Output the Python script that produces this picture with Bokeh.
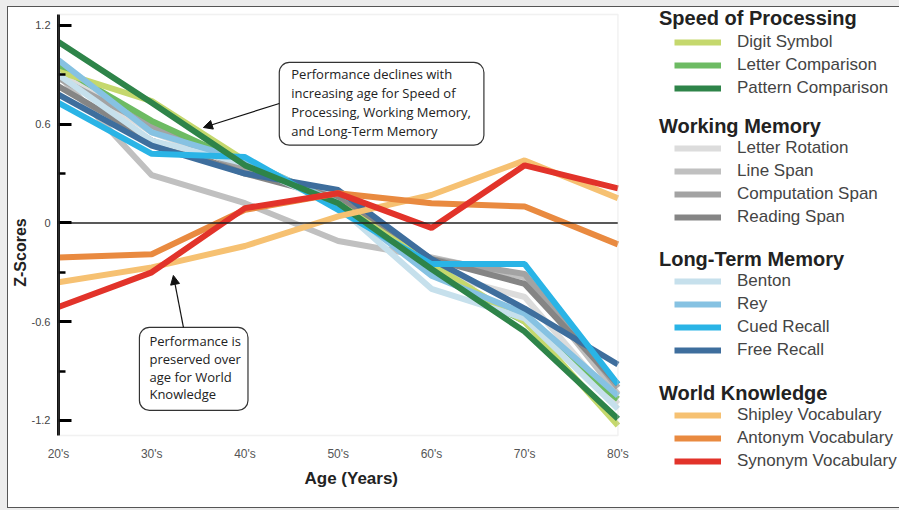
from bokeh.plotting import figure
from bokeh.models import (Range1d, FixedTicker, Label, Arrow, NormalHead,
                          Legend, LegendItem, BoxAnnotation)
from bokeh.embed import file_html
from bokeh.resources import INLINE

# ---------------- data ----------------
ages = ["20's", "30's", "40's", "50's", "60's", "70's", "80's"]

digit_symbol       = [0.92, 0.74, 0.38, 0.12, -0.25, -0.60, -1.23]
letter_comparison  = [0.95, 0.62, 0.36, 0.12, -0.30, -0.60, -1.07]
pattern_comparison = [1.10, 0.73, 0.35, 0.12, -0.28, -0.66, -1.19]
letter_rotation    = [0.92, 0.55, 0.35, 0.15, -0.30, -0.45, -1.10]
line_span          = [0.90, 0.29, 0.12, -0.11, -0.21, -0.33, -1.04]
computation_span   = [0.88, 0.59, 0.32, 0.15, -0.22, -0.31, -1.00]
reading_span       = [0.83, 0.50, 0.30, 0.15, -0.22, -0.37, -0.98]
benton             = [0.90, 0.50, 0.36, 0.10, -0.40, -0.58, -1.13]
rey                = [0.99, 0.55, 0.38, 0.12, -0.32, -0.55, -1.05]
cued_recall        = [0.73, 0.42, 0.40, 0.08, -0.25, -0.25, -0.98]
free_recall        = [0.78, 0.47, 0.30, 0.20, -0.22, -0.52, -0.86]
shipley_vocab      = [-0.36, -0.27, -0.14, 0.04, 0.17, 0.38, 0.15]
antonym_vocab      = [-0.21, -0.19, 0.08, 0.18, 0.12, 0.10, -0.13]
synonym_vocab      = [-0.51, -0.30, 0.09, 0.18, -0.03, 0.35, 0.21]

group_names = ["Speed of Processing", "Working Memory", "Long-Term Memory", "World Knowledge"]
speed_names = ["Digit Symbol", "Letter Comparison", "Pattern Comparison"]
wm_names = ["Letter Rotation", "Line Span", "Computation Span", "Reading Span"]
ltm_names = ["Benton", "Rey", "Cued Recall", "Free Recall"]
wk_names = ["Shipley Vocabulary", "Antonym Vocabulary", "Synonym Vocabulary"]

y_tick_values = [-1.2, -0.6, 0, 0.6, 1.2]
y_minor_values = [-0.9, -0.3, 0.3, 0.9]

series = {
    "Digit Symbol": (digit_symbol, "#c5d86d"),
    "Letter Comparison": (letter_comparison, "#6dbb63"),
    "Pattern Comparison": (pattern_comparison, "#2e8449"),
    "Letter Rotation": (letter_rotation, "#dcdcdc"),
    "Line Span": (line_span, "#c0c0c0"),
    "Computation Span": (computation_span, "#a3a3a3"),
    "Reading Span": (reading_span, "#858585"),
    "Benton": (benton, "#c6e0ec"),
    "Rey": (rey, "#86c2e2"),
    "Cued Recall": (cued_recall, "#2ab4e6"),
    "Free Recall": (free_recall, "#3e6e9d"),
    "Shipley Vocabulary": (shipley_vocab, "#f6c172"),
    "Antonym Vocabulary": (antonym_vocab, "#e98a40"),
    "Synonym Vocabulary": (synonym_vocab, "#e2332a"),
}
draw_order = ["Letter Rotation", "Line Span", "Computation Span", "Reading Span",
              "Letter Comparison", "Digit Symbol", "Benton", "Rey", "Free Recall",
              "Cued Recall", "Pattern Comparison", "Shipley Vocabulary",
              "Antonym Vocabulary", "Synonym Vocabulary"]

FONT = "Liberation Sans"
PLOT_BOTTOM, PLOT_TOP = -1.291, 1.267     # z-score extent of the chart area
VIEW_BOTTOM, VIEW_TOP = -1.668, 1.309     # whole canvas (legend lives on the right)
X_END = 9.02

p = figure(width=891, height=500, output_backend="svg", toolbar_location=None,
           x_range=Range1d(0, X_END), y_range=Range1d(VIEW_BOTTOM, VIEW_TOP),
           min_border_left=49, min_border_right=0, min_border_top=0,
           min_border_bottom=10)
p.styles = {"margin-left": "8px", "margin-top": "7px",
            "outline": "1px solid #555555", "box-shadow": "0 0 0 8px #ececec"}
p.grid.visible = False
p.outline_line_color = None
p.background_fill_color = "white"
p.border_fill_color = "white"

xs = list(range(len(ages)))

# chart area border
p.add_layout(BoxAnnotation(left=xs[0], right=xs[-1], bottom=PLOT_BOTTOM, top=PLOT_TOP,
                           fill_alpha=0, line_color="#cfcfcf", line_width=1.5))

renderers = {}
for name in draw_order:
    vals, col = series[name]
    renderers[name] = p.line(xs, vals, line_color=col, line_width=6)

# zero reference line
p.segment(x0=xs[0], x1=xs[-1], y0=0, y1=0, line_color="#222222", line_width=1.5)

ya = p.yaxis[0]
ya.bounds = (PLOT_BOTTOM, PLOT_TOP)
ya.ticker = FixedTicker(ticks=y_tick_values, minor_ticks=y_minor_values)
ya.major_label_overrides = {v: ("0" if v == 0 else f"{v:g}") for v in y_tick_values}
ya.axis_line_color = "#111111"
ya.axis_line_width = 3
ya.major_tick_in = 13
ya.major_tick_out = 0
ya.major_tick_line_width = 3
ya.minor_tick_in = 7
ya.minor_tick_out = 0
ya.minor_tick_line_width = 2.5
ya.major_label_text_font = FONT
ya.major_label_text_font_size = "11px"
ya.major_label_text_color = "#444444"
ya.major_label_standoff = 8
ya.axis_label = "Z-Scores"
ya.axis_label_text_font = FONT
ya.axis_label_text_font_size = "16px"
ya.axis_label_text_font_style = "bold"
ya.axis_label_text_color = "#222222"
ya.axis_label_standoff = 0

xa = p.xaxis[0]
xa.bounds = (xs[0], xs[-1])
xa.ticker = FixedTicker(ticks=xs)
xa.major_label_overrides = {i: a for i, a in zip(xs, ages)}
xa.axis_line_color = None
xa.major_tick_line_color = None
xa.minor_tick_line_color = None
xa.major_label_text_font = FONT
xa.major_label_text_font_size = "12px"
xa.major_label_text_color = "#555555"
xa.major_label_standoff = -57

# x-axis title, centred under the chart area
p.add_layout(Label(x=3.14, y=-1.552, text="Age (Years)", text_font=FONT,
                   text_font_size="17px", text_font_style="bold", text_color="#222222",
                   text_align="center", text_baseline="middle"))

# annotation boxes and arrows
p.add_layout(Label(x=2.368, y=0.975,
                   text="Performance declines with\nincreasing age for Speed of\nProcessing, Working Memory,\nand Long-Term Memory",
                   text_font="Open Sans", text_font_size="13px", text_color="#222222",
                   text_align="left", text_baseline="top", text_line_height=1.05,
                   padding=(12, 13, 3, 5), border_radius=10,
                   border_line_color="#333333", border_line_width=1.2,
                   background_fill_color="white"))
p.add_layout(Label(x=0.868, y=-0.635,
                   text="Performance is\npreserved over\nage for World\nKnowledge",
                   text_font="Open Sans", text_font_size="13px", text_color="#222222",
                   text_align="left", text_baseline="top", text_line_height=0.98,
                   padding=(10, 7, 5, 7), border_radius=10,
                   border_line_color="#333333", border_line_width=1.2,
                   background_fill_color="white"))
p.add_layout(Arrow(x_start=2.368, y_start=0.726, x_end=1.554, y_end=0.580,
                   line_color="#111111", line_width=1.2,
                   end=NormalHead(size=9, fill_color="#111111", line_color="#111111")))
p.add_layout(Arrow(x_start=1.34, y_start=-0.635, x_end=1.232, y_end=-0.319,
                   line_color="#111111", line_width=1.2,
                   end=NormalHead(size=9, fill_color="#111111", line_color="#111111")))

# ---------------- grouped legend ----------------
group_members = [speed_names, wm_names, ltm_names, wk_names]
title_y = [1.2424, 0.5863, -0.2217, -1.0358]
legend_y = [398, 269, 136, 25]
for gname, members, ty, ly in zip(group_names, group_members, title_y, legend_y):
    p.add_layout(Label(x=6.44, y=ty, text=gname, text_font=FONT, text_font_size="20px",
                       text_font_style="bold", text_color="#222222",
                       text_baseline="middle", text_align="left"))
    items = [LegendItem(label=m, renderers=[renderers[m]]) for m in members]
    p.add_layout(Legend(items=items, location=(616, ly), orientation="vertical",
                        glyph_width=47, glyph_height=22, label_height=22, spacing=1,
                        label_standoff=16, padding=0, margin=0,
                        border_line_color=None, background_fill_alpha=0,
                        label_text_font=FONT, label_text_font_size="17px",
                        label_text_color="#444444", label_text_baseline="middle"))

open("out.html", "w").write(file_html(p, INLINE))
